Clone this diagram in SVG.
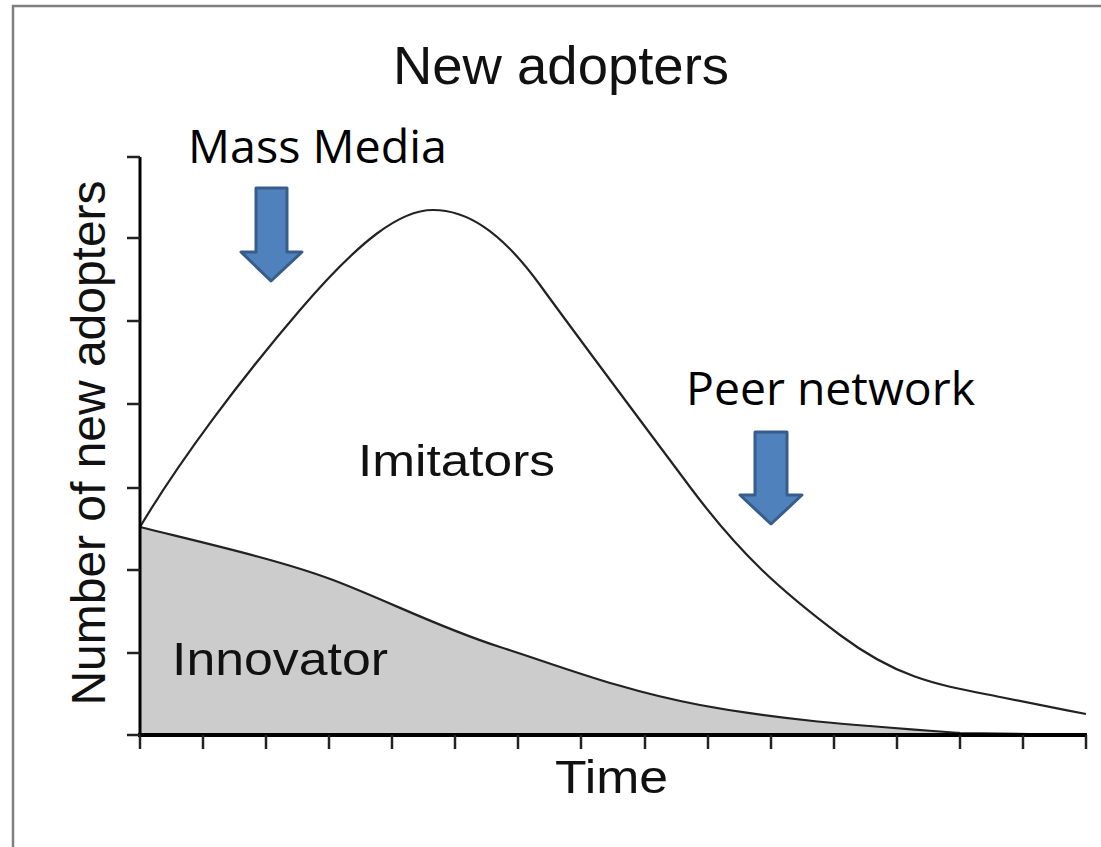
<svg xmlns="http://www.w3.org/2000/svg" width="1101" height="847" viewBox="0 0 1101 847">
<style>
.sans{font-family:"Liberation Sans",Arial,sans-serif;fill:#111}
.cal{font-family:"Open Sans","Liberation Sans",sans-serif;fill:#000}
.curve{fill:none;stroke:#222;stroke-width:2.2;stroke-linejoin:round}
.tick{stroke:#222;stroke-width:2.5}
.arrow{fill:#4F81BD;stroke:#385D8A;stroke-width:3;stroke-linejoin:round}
</style>
<rect x="0" y="0" width="1101" height="847" fill="#fff"/>
<rect x="13" y="6" width="1100" height="860" fill="none" stroke="#7f7f7f" stroke-width="2.5"/>
<g id="chart">
<path d="M140,527 C200,542 280,560 333,580 S440,628 500,647 S620,690 700,705 S850,725 960,733 L1086,735 L140,735 Z" fill="#cccccc"/>
<path class="curve" d="M140,527 C200,542 280,560 333,580 S440,628 500,647 S620,690 700,705 S850,725 960,733 L1086,735"/>
<path class="curve" d="M140,527 C180,460 240,380 300,310 S400,210 433,210 S500,230 540,285 S640,420 690,487 S780,590 840,635 S940,685 1000,697 S1060,709 1086,714"/>
</g>
<g id="axes">
<line x1="140" y1="157" x2="140" y2="736" stroke="#000" stroke-width="3"/>
<line x1="138" y1="735" x2="1087" y2="735" stroke="#000" stroke-width="4"/>
<g class="tick">
<line x1="127" y1="157" x2="140" y2="157"/><line x1="127" y1="238" x2="140" y2="238"/><line x1="127" y1="321" x2="140" y2="321"/><line x1="127" y1="404" x2="140" y2="404"/><line x1="127" y1="488" x2="140" y2="488"/><line x1="127" y1="570" x2="140" y2="570"/><line x1="127" y1="653" x2="140" y2="653"/><line x1="127" y1="735" x2="140" y2="735"/>
<line x1="140" y1="735" x2="140" y2="749"/><line x1="203" y1="735" x2="203" y2="749"/><line x1="266" y1="735" x2="266" y2="749"/><line x1="329" y1="735" x2="329" y2="749"/><line x1="392" y1="735" x2="392" y2="749"/><line x1="455" y1="735" x2="455" y2="749"/><line x1="518" y1="735" x2="518" y2="749"/><line x1="581" y1="735" x2="581" y2="749"/><line x1="645" y1="735" x2="645" y2="749"/><line x1="708" y1="735" x2="708" y2="749"/><line x1="771" y1="735" x2="771" y2="749"/><line x1="834" y1="735" x2="834" y2="749"/><line x1="897" y1="735" x2="897" y2="749"/><line x1="960" y1="735" x2="960" y2="749"/><line x1="1023" y1="735" x2="1023" y2="749"/><line x1="1086" y1="735" x2="1086" y2="749"/>
</g>
</g>
<g id="labels">
<text class="sans" x="393" y="84" font-size="54" textLength="336" lengthAdjust="spacingAndGlyphs">New adopters</text>
<text class="sans" x="358" y="476" font-size="45" textLength="197" lengthAdjust="spacingAndGlyphs">Imitators</text>
<text class="sans" x="172" y="675" font-size="46" textLength="216" lengthAdjust="spacingAndGlyphs">Innovator</text>
<text class="sans" x="555" y="793" font-size="46" textLength="113" lengthAdjust="spacingAndGlyphs">Time</text>
<text class="sans" transform="translate(105,443) rotate(-90)" text-anchor="middle" font-size="48" textLength="525" lengthAdjust="spacingAndGlyphs">Number of new adopters</text>
</g>
<g id="mass-media">
<text class="cal" x="188" y="163" font-size="46" textLength="259" lengthAdjust="spacingAndGlyphs">Mass Media</text>
<polygon class="arrow" points="256,188 287,188 287,252 302,252 271,281 241,252 256,252"/>
</g>
<g id="peer-network">
<text class="cal" x="686" y="405" font-size="46" textLength="289" lengthAdjust="spacingAndGlyphs">Peer network</text>
<polygon class="arrow" points="755,432 787,432 787,495 802,495 771,524 740,495 755,495"/>
</g>
</svg>
